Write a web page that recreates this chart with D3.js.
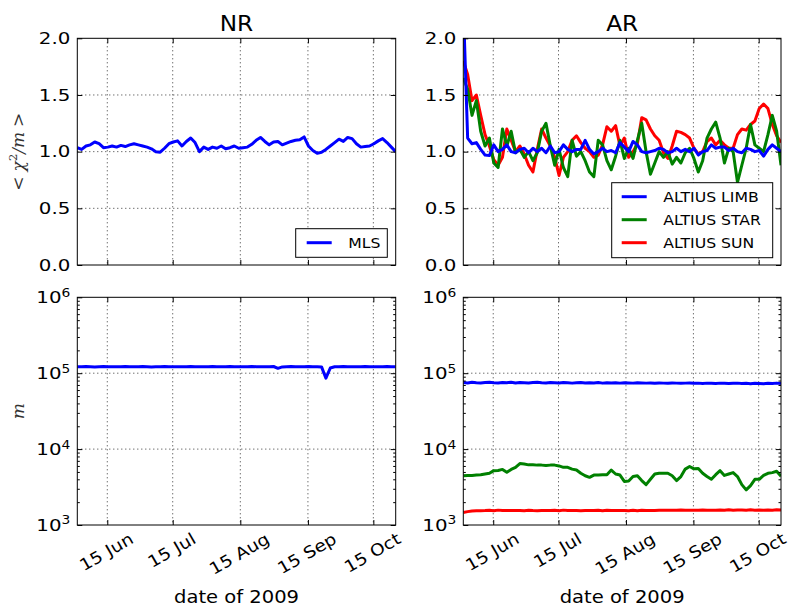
<!DOCTYPE html>
<html><head><meta charset="utf-8">
<script src="https://cdn.jsdelivr.net/npm/d3@7"></script>
<style>body{margin:0;background:#fff}svg{display:block}</style>
</head><body>
<svg id="c" width="790" height="606"></svg>
<script>
// ---------------- data ----------------
const START = "2009-06-01T06:00:00Z";
const END = "2009-10-25T06:00:00Z";
const STEP_DAYS = 2;
const xTickDates = ["2009-06-15", "2009-07-15", "2009-08-15", "2009-09-15", "2009-10-15"];
const xTickLabels = ["15 Jun", "15 Jul", "15 Aug", "15 Sep", "15 Oct"];
const chiTicks = [0, 0.5, 1.0, 1.5, 2.0];
const logTicks = [1e3, 1e4, 1e5, 1e6];
const panelTitles = ["NR", "AR"];
const nrLegend = ["MLS"];
const arLegend = ["ALTIUS LIMB", "ALTIUS STAR", "ALTIUS SUN"];

const mlsChi = [1.035,1.02,1.05,1.06,1.085,1.07,1.035,1.04,1.05,1.04,1.055,1.045,1.06,1.07,1.06,1.05,1.04,1.025,1.0,0.995,1.03,1.07,1.085,1.095,1.05,1.09,1.12,1.08,1.0,1.04,1.02,1.04,1.03,1.05,1.025,1.035,1.05,
  1.03,1.035,1.04,1.065,1.1,1.125,1.09,1.06,1.085,1.09,1.06,1.075,1.09,1.1,1.105,1.13,1.05,1.01,0.985,0.995,1.02,1.05,1.08,1.11,1.09,1.125,1.115,1.07,1.04,1.045,1.05,1.07,1.095,1.115,1.08,1.04,1.0];
const limbChi = [2.3,1.12,1.07,1.08,1.02,0.97,0.965,1.06,1.0,1.02,1.06,1.0,0.99,1.02,1.03,0.99,1.03,1.0,1.03,0.99,1.05,0.99,1.0,1.06,1.02,
  1.0,1.02,1.02,1.1,1.02,0.98,1.0,1.03,1.0,1.01,0.99,1.08,1.04,1.0,1.09,1.06,1.0,0.99,1.0,1.01,1.03,1.02,0.99,1.0,
  1.03,1.0,1.02,1.0,1.03,0.97,1.0,1.01,1.06,1.03,1.04,1.04,1.01,1.03,1.0,0.99,1.03,1.02,1.0,1.01,0.96,1.02,1.06,1.03,1.0];
const starChi = [1.65,1.55,1.32,1.45,1.18,1.05,1.12,0.9,0.86,1.2,1.05,1.18,0.99,1.02,0.95,1.0,0.92,0.99,1.18,1.25,1.05,0.88,1.02,0.86,0.78,
  1.1,0.96,1.0,0.92,0.82,0.78,1.1,1.06,0.92,0.84,0.96,1.1,0.94,1.03,0.94,1.1,1.25,1.0,0.8,0.9,1.0,0.95,1.0,0.89,
  0.95,0.9,0.99,1.03,0.94,0.82,0.92,1.12,1.2,1.26,1.12,0.9,1.03,1.0,0.73,0.88,1.03,1.24,1.06,1.03,1.0,1.15,1.32,1.18,0.88];
const sunChi = [1.8,1.68,1.45,1.5,1.32,1.15,1.05,0.93,0.88,0.95,1.2,1.1,1.0,1.05,0.98,0.88,0.82,1.02,1.2,1.12,1.05,0.95,0.79,0.95,1.0,
  1.1,1.14,1.08,1.03,1.0,0.95,0.97,1.06,1.22,1.18,1.23,1.05,1.12,0.95,1.0,1.07,1.3,1.28,1.2,1.14,1.1,0.99,0.94,1.05,
  1.18,1.17,1.15,1.12,1.03,0.98,1.0,1.09,1.12,1.06,1.1,1.06,1.03,1.03,1.15,1.2,1.19,1.24,1.27,1.38,1.42,1.38,1.24,1.14,1.08];

const mlsM = [122000,121500,122500,122000,121000,122000,122500,121500,122000,122000,121500,122500,122000,121500,122000,122500,122000,121000,122000,122000,
  122500,121500,122000,122000,121500,122000,122500,122000,121500,122000,122000,122500,121500,122000,122000,122500,121500,122000,121500,122000,
  122500,122000,121500,122000,122000,122500,116000,121000,122000,122500,121500,122000,122000,122500,121500,122000,121000,86000,117000,121500,
  122000,122500,121500,122000,122000,121500,122500,122000,121500,122000,122000,122500,121500,122000];
const limbM = [75500,74500,76000,75000,74500,75500,76000,75000,74500,75500,75000,76000,74500,75500,75000,74500,75500,76000,75000,74500,
  75500,75000,74500,75500,75000,74000,75000,75500,74500,75000,74500,75500,74000,75000,74500,75000,74000,75000,74500,74000,
  75000,74500,74000,74500,73500,74500,74000,73500,74500,74000,73500,74000,74500,73500,74000,73000,74000,73500,73000,74000,
  73500,73000,73500,74000,73000,73500,72500,73500,73000,72500,73500,73000,74000,73000];
const starM = [4450,4500,4500,4550,4600,4700,4800,5200,5230,5400,4950,5400,5750,6450,6350,6200,6200,6150,6150,6100,
  6150,6150,6000,5750,5750,5450,5300,4800,4450,4250,4550,4550,4600,4600,5300,4700,4550,3750,3800,4350,
  4450,3850,3400,4000,4700,4800,4800,4800,4450,3850,4350,5450,5900,5500,5550,4800,4350,4000,4600,5200,
  4500,4700,4900,4350,3400,2900,3300,4000,4000,4500,4800,4900,5100,4400];
const sunM = [1460,1500,1530,1540,1545,1550,1560,1545,1570,1550,1555,1550,1555,1550,1545,1560,1550,1545,1555,1550,
  1550,1560,1545,1570,1550,1555,1550,1545,1550,1555,1550,1560,1545,1565,1550,1550,1555,1550,1545,1560,
  1545,1565,1550,1550,1555,1560,1565,1560,1570,1560,1575,1560,1565,1570,1560,1575,1560,1565,1570,1575,
  1560,1585,1570,1575,1580,1570,1585,1570,1580,1570,1580,1565,1585,1575];

// ---------------- drawing ----------------
const FONT = "'DejaVu Sans', sans-serif";
const TICK_FS = 16.5, SX = 1.2, SXX = 1.13;
const BLUE = "#0000ff", GREEN = "#008000", RED = "#ff0000";
const svg = d3.select("#c");
const t0 = new Date(START);
const dates = n => d3.range(n).map(i => d3.utcDay.offset(t0, i * STEP_DAYS));

const cols = [{x0: 77.3, x1: 395.7}, {x0: 463.3, x1: 781}];
const rows = [{y0: 38.3, y1: 265}, {y0: 297.3, y1: 525}];

const panels = [
  {c: 0, r: 0, kind: "chi", series: [{v: mlsChi, col: BLUE}], title: panelTitles[0]},
  {c: 1, r: 0, kind: "chi", series: [{v: sunChi, col: RED}, {v: starChi, col: GREEN}, {v: limbChi, col: BLUE}], title: panelTitles[1]},
  {c: 0, r: 1, kind: "log", series: [{v: mlsM, col: BLUE}]},
  {c: 1, r: 1, kind: "log", series: [{v: sunM, col: RED}, {v: starM, col: GREEN}, {v: limbM, col: BLUE}]}
];

const tickDates = xTickDates.map(s => new Date(s + "T00:00:00Z"));

panels.forEach((p, i) => {
  const {x0, x1} = cols[p.c], {y0, y1} = rows[p.r];
  const x = d3.scaleUtc().domain([t0, new Date(END)]).range([x0, x1]);
  const y = p.kind === "chi" ? d3.scaleLinear().domain([0, 2]).range([y1, y0])
                             : d3.scaleLog().domain([1e3, 1e6]).range([y1, y0]);
  const g = svg.append("g");
  const clipId = "clip" + i;
  g.append("clipPath").attr("id", clipId).append("rect")
    .attr("x", x0).attr("y", y0).attr("width", x1 - x0).attr("height", y1 - y0);

  // grid
  const gg = g.append("g").attr("stroke", "#000").attr("stroke-width", 0.8).attr("stroke-dasharray", "1,3");
  gg.selectAll(".gx").data(tickDates).join("line")
    .attr("x1", d => x(d)).attr("x2", d => x(d)).attr("y1", y0).attr("y2", y1);
  const yt = p.kind === "chi" ? chiTicks : logTicks;
  gg.selectAll(".gy").data(yt.filter(v => y(v) > y0 + 1 && y(v) < y1 - 1)).join("line")
    .attr("x1", x0).attr("x2", x1).attr("y1", d => y(d)).attr("y2", d => y(d));

  // data lines
  const dl = g.append("g").attr("clip-path", `url(#${clipId})`);
  p.series.forEach(s => {
    const ds = dates(s.v.length);
    dl.append("path").datum(s.v)
      .attr("fill", "none").attr("stroke", s.col).attr("stroke-width", 3)
      .attr("stroke-linejoin", "round")
      .attr("d", d3.line().x((v, k) => x(ds[k])).y(v => y(v)));
  });

  // axes (ticks inward on all sides)
  const fmtX = (d, k) => (p.r === 1 ? xTickLabels[k] : "");
  const axB = g.append("g").attr("transform", `translate(0,${y1})`)
    .call(d3.axisBottom(x).tickValues(tickDates).tickSizeInner(-5).tickSizeOuter(0).tickPadding(8).tickFormat(fmtX));
  g.append("g").attr("transform", `translate(0,${y0})`)
    .call(d3.axisTop(x).tickValues(tickDates).tickSizeInner(-5).tickSizeOuter(0).tickFormat(""));

  let axL;
  if (p.kind === "chi") {
    axL = g.append("g").attr("transform", `translate(${x0},0)`)
      .call(d3.axisLeft(y).tickValues(chiTicks).tickSizeInner(-5).tickSizeOuter(0).tickPadding(7).tickFormat(d3.format(".1f")));
    g.append("g").attr("transform", `translate(${x1},0)`)
      .call(d3.axisRight(y).tickValues(chiTicks).tickSizeInner(-5).tickSizeOuter(0).tickFormat(""));
  } else {
    axL = g.append("g").attr("transform", `translate(${x0},0)`)
      .call(d3.axisLeft(y).tickValues(logTicks).tickSizeInner(-5).tickSizeOuter(0).tickPadding(7).tickFormat(() => "10"));
    axL.selectAll(".tick text").each(function (d) {
      d3.select(this).append("tspan").attr("dy", "-0.55em").attr("font-size", "11.5px").text(Math.round(Math.log10(d)));
    });
    g.append("g").attr("transform", `translate(${x1},0)`)
      .call(d3.axisRight(y).tickValues(logTicks).tickSizeInner(-5).tickSizeOuter(0).tickFormat(""));
    const minor = [];
    [1e3, 1e4, 1e5].forEach(b => d3.range(2, 10).forEach(m => minor.push(b * m)));
    g.append("g").attr("transform", `translate(${x0},0)`)
      .call(d3.axisLeft(y).tickValues(minor).tickSizeInner(-2.5).tickSizeOuter(0).tickFormat(""));
    g.append("g").attr("transform", `translate(${x1},0)`)
      .call(d3.axisRight(y).tickValues(minor).tickSizeInner(-2.5).tickSizeOuter(0).tickFormat(""));
  }
  g.selectAll(".domain").remove();
  g.selectAll(".tick line").attr("stroke", "#000").attr("stroke-width", 1);
  g.selectAll(".tick text").attr("font-family", FONT).attr("font-size", TICK_FS + "px").attr("fill", "#000");

  // y tick labels: slightly wide glyphs as in the reference
  axL.selectAll(".tick text").each(function () {
    const t = d3.select(this);
    const xx = +t.attr("x");
    t.attr("x", 0).attr("transform", `translate(${xx},0) scale(${SX},1)`);
  });

  // rotated x labels (matplotlib rotation=30, ha=center)
  if (p.r === 1) {
    axB.selectAll(".tick text").each(function () {
      const t = d3.select(this);
      const w = this.getComputedTextLength() * SXX;
      const h = 12;
      const cy = 7 + (w * 0.5 + h * 0.866) / 2;
      t.attr("y", 0).attr("dy", "0.35em").attr("text-anchor", "middle")
       .attr("transform", `translate(-1.5,${cy}) rotate(-30) scale(${SXX},1)`);
    });
  }

  // frame
  g.append("rect").attr("x", x0).attr("y", y0).attr("width", x1 - x0).attr("height", y1 - y0)
    .attr("fill", "none").attr("stroke", "#000").attr("stroke-width", 1);

  // titles
  if (p.title) {
    g.append("text").attr("transform", `translate(${(x0 + x1) / 2},31) scale(1.08,1)`).attr("text-anchor", "middle")
      .attr("font-family", FONT).attr("font-size", "21.5px").text(p.title);
  }
  if (p.r === 1) {
    g.append("text").attr("transform", `translate(${(x0 + x1) / 2},603) scale(1.15,1)`).attr("text-anchor", "middle")
      .attr("font-family", FONT).attr("font-size", "17px").text("date of 2009");
  }
});

// y labels
const yl1 = svg.append("text").attr("transform", `translate(24,${(38.3 + 265) / 2}) rotate(-90)`)
  .attr("text-anchor", "middle").attr("font-family", "'DejaVu Serif', serif").attr("font-style", "italic")
  .attr("font-size", "17px").attr("fill", "#333");
yl1.append("tspan").attr("font-style", "normal").text("<");
yl1.append("tspan").attr("dx", 5).text("χ");
yl1.append("tspan").attr("dy", -7).attr("font-size", "11.5px").attr("font-style", "normal").text("2");
yl1.append("tspan").attr("dy", 7).text("/m");
yl1.append("tspan").attr("dx", 5).attr("font-style", "normal").text(">");

svg.append("text").attr("transform", `translate(24,${(297.3 + 525) / 2}) rotate(-90)`)
  .attr("text-anchor", "middle").attr("font-family", "'DejaVu Serif', serif").attr("font-style", "italic")
  .attr("font-size", "17px").attr("fill", "#333").text("m");

// legends
function legend(box, items, colors, rowY, lx0, lx1, tx) {
  const lg = svg.append("g");
  lg.append("rect").attr("x", box[0]).attr("y", box[1]).attr("width", box[2]).attr("height", box[3])
    .attr("fill", "#fff").attr("stroke", "#000").attr("stroke-width", 1);
  items.forEach((name, k) => {
    lg.append("line").attr("x1", lx0).attr("x2", lx1).attr("y1", rowY[k]).attr("y2", rowY[k])
      .attr("stroke", colors[k]).attr("stroke-width", 3);
    lg.append("text").attr("transform", `translate(${tx},${rowY[k]}) scale(1.08,1)`).attr("dy", "0.36em")
      .attr("font-family", FONT).attr("font-size", "14.5px").text(name);
  });
}
legend([295.7, 228.7, 91.6, 28.6], nrLegend, [BLUE], [242.7], 306.7, 331.7, 348.3);
legend([611.7, 182.7, 161, 75], arLegend, [BLUE, GREEN, RED], [196.7, 219.7, 242.7], 621.7, 646.7, 663.3);
</script>
</body></html>
